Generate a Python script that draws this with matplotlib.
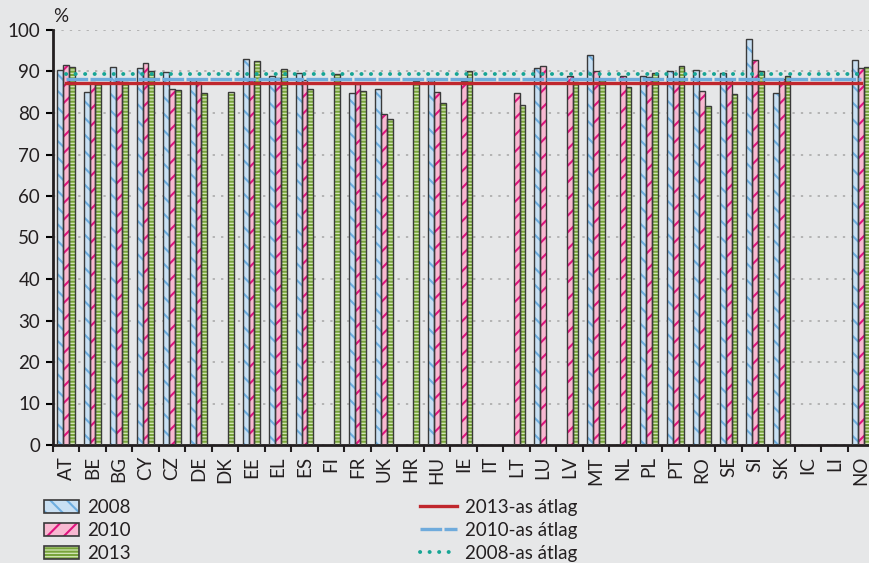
import matplotlib
matplotlib.use('Agg')
import matplotlib.pyplot as plt
from matplotlib.patches import Patch
from matplotlib.lines import Line2D
import numpy as np

########################################################################
            # Datos del grafico

orszagok = ['AT', 'BE', 'BG', 'CY', 'CZ', 'DE', 'DK', 'EE', 'EL', 'ES', 'FI', 'FR', 'UK', 'HR', 'HU',
            'IE', 'IT', 'LT', 'LU', 'LV', 'MT', 'NL', 'PL', 'PT', 'RO', 'SE', 'SI', 'SK', 'IC', 'LI', 'NO']

nan = np.nan
ertek_2008 = [90.4, 85.0, 91.2, 90.8, 89.9, 88.0, nan, 92.9, 88.8, 89.6, nan, 84.8, 85.7, nan, 88.0,
              nan, nan, nan, 90.8, nan, 93.9, nan, 88.8, 90.2, 90.4, 89.6, 97.8, 84.7, nan, nan, 92.8]
ertek_2010 = [91.6, 87.5, 88.0, 92.1, 85.8, 87.5, nan, 88.0, 88.5, 88.0, nan, 87.0, 79.7, nan, 85.1,
              87.8, nan, 84.7, 91.4, 88.8, 90.0, 88.9, 88.6, 88.0, 85.4, 88.0, 92.7, 88.3, nan, nan, 90.8]
ertek_2013 = [91.0, 87.0, 87.5, 90.2, 85.5, 84.9, 85.0, 92.5, 90.5, 85.7, 89.4, 85.4, 78.6, 87.8, 82.3,
              90.0, nan, 81.9, nan, 87.5, 88.0, 86.2, 89.7, 91.3, 81.6, 84.5, 90.0, 88.9, nan, nan, 91.2]

atlag_2013 = 87.2
atlag_2010 = 88.1
atlag_2008 = 89.5

########################################################################
            # Grafico

plt.rcParams['font.family'] = ['Lato', 'DejaVu Sans']
plt.rcParams['hatch.linewidth'] = 1.5
szoveg_szin = '#231f20'
hatter = '#e6e7e8'
korvonal = '#3a3a3a'

fig = plt.figure(figsize=(8.7, 5.63), dpi=100, facecolor=hatter)
ax = fig.add_axes([52.7 / 870, 118 / 563, 821.8 / 870, 415 / 563], facecolor=hatter)

x = np.arange(len(orszagok))
szel = 0.22

sorozatok = [
    (ertek_2008, -szel, '#c9e0f3', '#6eaee0', '\\\\'),
    (ertek_2010, 0.0, '#f8b9d1', '#e0157f', '//'),
    (ertek_2013, szel, '#d3e6b8', '#78a43a', '-----'),
]
for ertekek, eltolas, kitoltes, minta_szin, minta in sorozatok:
    # kitoltes + minta, utana a korvonal
    ax.bar(x + eltolas, ertekek, width=szel, color=kitoltes, edgecolor=minta_szin,
           hatch=minta, linewidth=0, zorder=2)
    ax.bar(x + eltolas, ertekek, width=szel, facecolor='none', edgecolor=korvonal,
           linewidth=1.0, zorder=3)

ax.plot(x, [atlag_2013] * len(x), color='#c0272d', linewidth=2.4, zorder=4)
ax.plot(x, [atlag_2010] * len(x), color='#6fabdc', linewidth=2.4, linestyle=(0, (6.5, 0.7)), zorder=5)
ax.plot(x, [atlag_2008] * len(x), color='#17a595', linewidth=2.8, linestyle=(0, (0.05, 2.4)),
        dash_capstyle='round', zorder=6)

ax.set_xlim(-0.5, len(orszagok) - 0.5)
ax.set_ylim(0, 100)
ax.set_yticks(range(0, 101, 10))
ax.set_xticks(x)
ax.set_xticklabels(orszagok, rotation=90, fontsize=13.5, color=szoveg_szin)
ax.set_xticks(np.arange(-0.5, len(orszagok), 1), minor=True)
ax.tick_params(axis='x', which='major', length=0, pad=8)
ax.tick_params(axis='x', which='minor', length=5, width=1.5, color='#231f20')
ax.tick_params(axis='y', length=5, width=1.5, labelsize=13.5, labelcolor=szoveg_szin, pad=4)

ax.yaxis.grid(True, color='#a5a5a5', linestyle=(0, (1.5, 4)), linewidth=1.1)
ax.set_axisbelow(True)
for oldal in ['top', 'right']:
    ax.spines[oldal].set_visible(False)
ax.spines['left'].set_linewidth(2)
ax.spines['bottom'].set_linewidth(2)
ax.spines['left'].set_color('#231f20')
ax.spines['bottom'].set_color('#231f20')

fig.text(53 / 870, 1 - 17 / 563, '%', fontsize=13.5, color=szoveg_szin, va='center')

# jelmagyarazat: minta + korvonal egymasra rakva
oszlop_jelek = []
for _, _, kitoltes, minta_szin, minta in sorozatok:
    oszlop_jelek.append((Patch(facecolor=kitoltes, edgecolor=minta_szin, hatch=minta, linewidth=0),
                         Patch(facecolor='none', edgecolor=korvonal, linewidth=1.2)))
leg1 = fig.legend(oszlop_jelek, ['2008', '2010', '2013'], loc='upper left',
                  bbox_to_anchor=(44 / 870, 1 - 499 / 563), frameon=False, fontsize=13.5,
                  handlelength=1.85, handleheight=0.65, handletextpad=0.45, labelspacing=0.32,
                  borderaxespad=0, borderpad=0)
for t in leg1.get_texts():
    t.set_color(szoveg_szin)

vonal_jelek = [Line2D([], [], color='#c0272d', linewidth=2.4),
               Line2D([], [], color='#6fabdc', linewidth=2.4, linestyle=(0, (6.5, 0.7))),
               Line2D([], [], color='#17a595', linewidth=2.8, linestyle=(0, (0.05, 2.4)),
                      dash_capstyle='round')]
leg2 = fig.legend(vonal_jelek, ['2013-as átlag', '2010-as átlag', '2008-as átlag'], loc='upper left',
                  bbox_to_anchor=(420 / 870, 1 - 499 / 563), frameon=False, fontsize=13.5,
                  handlelength=1.95, handletextpad=0.45, labelspacing=0.32,
                  borderaxespad=0, borderpad=0)
for t in leg2.get_texts():
    t.set_color(szoveg_szin)

plt.savefig('out.png', dpi=100, facecolor=hatter)
plt.close()
